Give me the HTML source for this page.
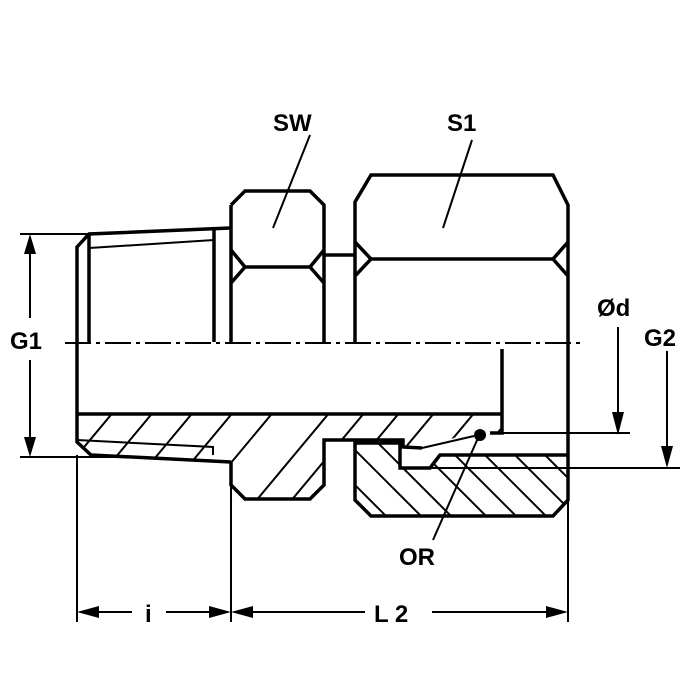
<!DOCTYPE html>
<html><head><style>body{margin:0;background:#fff}svg{display:block}text{font-family:"Liberation Sans",sans-serif;font-size:24px;font-weight:bold;fill:#000}</style></head><body>
<svg width="700" height="700" viewBox="0 0 700 700" xmlns="http://www.w3.org/2000/svg">
<defs>
<clipPath id="cm"><polygon points="77,414 502,414 502,433 470,433 422,448 403,447 403,440 324,440 324,485 310,499 245,499 231,485 231,462 91,455 77,442"/></clipPath>
<clipPath id="cn"><polygon points="355,443 400,443 400,468 430,468 440,455 568,455 568,500 553,516 371,516 355,500"/></clipPath>
</defs>
<g stroke="#000" stroke-width="2" clip-path="url(#cm)">
<line x1="40" y1="500" x2="140" y2="380"/><line x1="80" y1="500" x2="180" y2="380"/><line x1="120" y1="500" x2="220" y2="380"/><line x1="160" y1="500" x2="260" y2="380"/><line x1="200" y1="500" x2="300" y2="380"/><line x1="240" y1="520" x2="340" y2="400"/><line x1="275" y1="520" x2="375" y2="400"/><line x1="310" y1="520" x2="410" y2="400"/><line x1="345" y1="520" x2="445" y2="400"/><line x1="385" y1="520" x2="485" y2="400"/><line x1="425" y1="520" x2="525" y2="400"/><line x1="465" y1="520" x2="565" y2="400"/>
</g>
<g stroke="#000" stroke-width="2" clip-path="url(#cn)">
<line x1="340" y1="470" x2="400" y2="530"/><line x1="345" y1="440" x2="425" y2="520"/><line x1="375" y1="440" x2="455" y2="520"/><line x1="410" y1="440" x2="490" y2="520"/><line x1="440" y1="440" x2="520" y2="520"/><line x1="470" y1="440" x2="550" y2="520"/><line x1="500" y1="440" x2="580" y2="520"/><line x1="530" y1="440" x2="610" y2="520"/>
</g>
<g fill="none" stroke="#000" stroke-width="3.5" stroke-linejoin="miter">
<polyline points="230,228 89,234 77,247 77,442 91,455 231,462"/>
<line x1="89" y1="234" x2="89" y2="342"/><line x1="214" y1="230" x2="214" y2="342"/>
<line x1="231" y1="343" x2="231" y2="205"/>
<line x1="77" y1="414" x2="502" y2="414"/>
<polyline points="231,205 245,191 310,191 324,205 324,343"/>
<line x1="245" y1="267" x2="310" y2="267"/>
<polyline points="231,250 245,267 231,283"/><polyline points="324,250 310,267 324,283"/>
<line x1="324" y1="255" x2="355" y2="255"/>
<polyline points="231,462 231,485 245,499 310,499 324,485 324,440 403,440 403,447 422,448"/>
<polyline points="355,343 355,202 371,175 553,175 568,205 568,500 553,516 371,516 355,500 355,443 400,443 400,468 430,468 440,455 568,455"/>
<line x1="371" y1="259" x2="553" y2="259"/>
<polyline points="355,242 371,259 355,276"/><polyline points="568,242 553,259 568,276"/>
<polyline points="502,349 502,433 490,433"/>
</g>
<g fill="none" stroke="#000" stroke-width="2">
<polyline points="89,248 214,240"/>
<polyline points="77,440 213,447 213,455"/>
<line x1="422" y1="448" x2="474" y2="436"/>
<line x1="400" y1="468" x2="680" y2="468"/>
<line x1="502" y1="433" x2="630" y2="433"/>
<line x1="20" y1="234" x2="89" y2="234"/><line x1="20" y1="457" x2="120" y2="457"/>
<line x1="77" y1="455" x2="77" y2="622"/><line x1="231" y1="485" x2="231" y2="622"/><line x1="568" y1="500" x2="568" y2="622"/>
<line x1="30" y1="250" x2="30" y2="318"/><line x1="30" y1="360" x2="30" y2="440"/>
<line x1="618" y1="327" x2="618" y2="415"/><line x1="667" y1="351" x2="667" y2="450"/>
<line x1="95" y1="612" x2="132" y2="612"/><line x1="166" y1="612" x2="212" y2="612"/>
<line x1="250" y1="612" x2="365" y2="612"/><line x1="432" y1="612" x2="550" y2="612"/>
<line x1="310" y1="135" x2="273" y2="228"/><line x1="472" y1="140" x2="443" y2="228"/><line x1="433" y1="540" x2="478" y2="438"/>
<line x1="65" y1="343" x2="580" y2="343" stroke-dasharray="26,5,4,5"/>
</g>
<circle cx="480" cy="435" r="6" fill="#000"/>
<g fill="#000">
<polygon points="30,234 24,254 36,254"/><polygon points="30,457 24,437 36,437"/>
<polygon points="618,435 612,412 624,412"/><polygon points="667,468 661,446 673,446"/>
<polygon points="77,612 99,606 99,618"/><polygon points="231,612 209,606 209,618"/>
<polygon points="231,612 253,606 253,618"/><polygon points="568,612 546,606 546,618"/>
</g>
<text x="273" y="131">SW</text>
<text x="447" y="131">S1</text>
<text x="10" y="349">G1</text>
<text x="644" y="346">G2</text>
<text x="597" y="316">Ød</text>
<text x="399" y="565">OR</text>
<text x="145" y="622">i</text>
<text x="374" y="622">L 2</text>
</svg>
</body></html>
